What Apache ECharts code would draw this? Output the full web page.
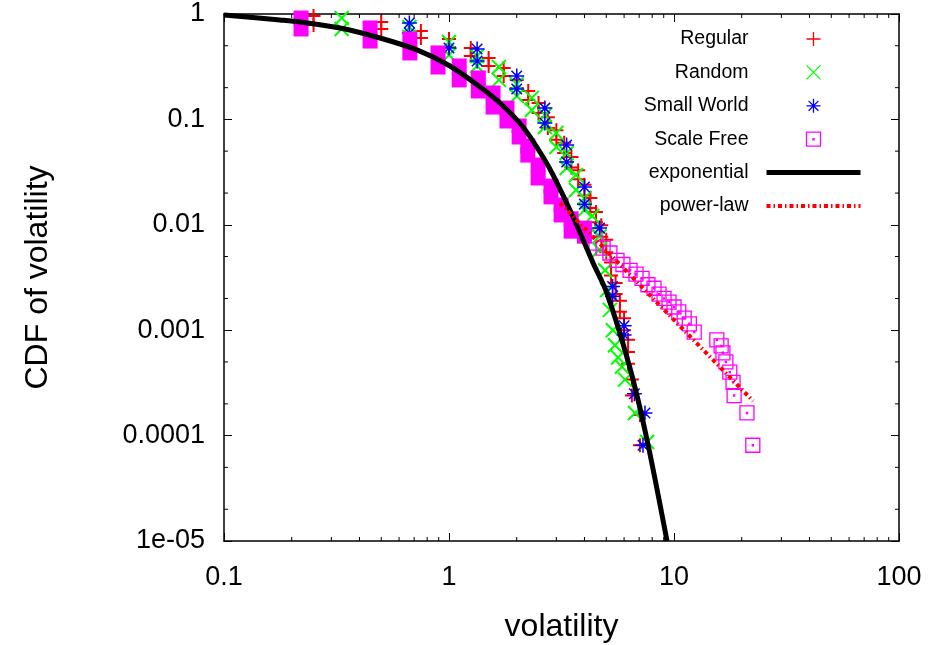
<!DOCTYPE html>
<html>
<head>
<meta charset="utf-8">
<title>CDF of volatility</title>
<script src="https://cdn.jsdelivr.net/npm/echarts@6/dist/echarts.min.js"></script>
<style>
html, body { margin: 0; padding: 0; background: #fff; }
#chart { width: 938px; height: 645px; }
</style>
</head>
<body>
<div id="chart"></div>
<script>
// tick values / labels
var xTickValues = [0.1, 1, 10, 100];
var xTickLabels = ['0.1', '1', '10', '100'];
var yTickValues = [1e-5, 1e-4, 1e-3, 1e-2, 0.1, 1];
var yTickLabels = ['1e-05', '0.0001', '0.001', '0.01', '0.1', '1'];
var xMinorTicks = [0.2, 0.3, 0.4, 0.5, 0.6, 0.7, 0.8, 0.9, 2, 3, 4, 5, 6, 7, 8, 9, 20, 30, 40, 50, 60, 70, 80, 90];
var yMinorTicks = [0.5, 0.2, 0.05, 0.02, 0.005, 0.002, 0.0005, 0.0002, 0.00005, 0.00002];

// series values: [volatility, CDF]
var regularPts = [
    [0.25, 0.957], [0.25, 0.786], [0.5, 0.839], [0.5, 0.721], [0.75, 0.69], [0.75, 0.592],
    [1.0, 0.579], [1.0, 0.486], [1.25, 0.476], [1.25, 0.4], [1.5, 0.383], [1.5, 0.321],
    [1.75, 0.308], [1.75, 0.258], [2.0, 0.237], [2.0, 0.199], [2.25, 0.186], [2.25, 0.153],
    [2.5, 0.143], [2.5, 0.115], [2.75, 0.105], [2.75, 0.083], [3.0, 0.079], [3.0, 0.064],
    [3.25, 0.06], [3.25, 0.048], [3.5, 0.044], [3.5, 0.035], [3.75, 0.033], [3.75, 0.027],
    [4.0, 0.024], [4.0, 0.019], [4.25, 0.018], [4.25, 0.0144], [4.5, 0.0132], [4.5, 0.0106],
    [4.75, 0.0099], [4.75, 0.0077], [5.0, 0.0072], [5.0, 0.0055], [5.25, 0.0044], [5.25, 0.0033],
    [5.5, 0.0028], [5.5, 0.0022], [5.75, 0.0019], [5.75, 0.0015], [6.0, 0.0013], [6.0, 0.001],
    [6.25, 0.00081], [6.25, 0.00062], [6.25, 0.00048], [6.5, 0.00034], [6.5, 0.00024],
    [7.06, 0.000157], [7.06, 0.000081]
];
var randomPts = [
    [0.3333, 0.916], [0.3333, 0.721], [0.6667, 0.753], [0.6667, 0.605], [1.0, 0.542], [1.0, 0.408],
    [1.3333, 0.4], [1.3333, 0.321], [1.6667, 0.314], [1.6667, 0.237], [2.0, 0.217], [2.0, 0.167],
    [2.3333, 0.16], [2.3333, 0.123], [2.6667, 0.11], [2.6667, 0.0847], [3.0, 0.0743], [3.0, 0.0547],
    [3.3333, 0.048], [3.3333, 0.0346], [3.6667, 0.0297], [3.6667, 0.0214], [4.0, 0.018], [4.0, 0.0138],
    [4.3333, 0.0121], [4.3333, 0.0089], [4.6667, 0.0078], [4.6667, 0.0058],
    [4.94, 0.0037], [5.04, 0.0024], [5.19, 0.00156], [5.35, 0.001], [5.47, 0.00072], [5.64, 0.00055],
    [5.87, 0.00045], [6.06, 0.00034], [6.71, 0.000164], [7.59, 0.000087]
];
var smallWorldPts = [
    [0.6667, 0.821], [0.6667, 0.66], [1.0, 0.476], [1.3333, 0.466], [1.3333, 0.358],
    [2.0, 0.258], [2.0, 0.194], [2.6667, 0.128], [2.6667, 0.0925], [3.3333, 0.0572], [3.3333, 0.0394],
    [4.0, 0.0228], [4.0, 0.0157], [4.6667, 0.0093], [5.3333, 0.0026], [5.3333, 0.0021],
    [6.0, 0.0011], [6.0, 0.0009], [6.6667, 0.00025], [7.43, 0.000164], [7.28, 0.000081]
];
var scaleFreeDensePts = [
    [0.22, 0.916], [0.22, 0.721], [0.446, 0.737], [0.446, 0.554], [0.67, 0.579], [0.67, 0.427],
    [0.894, 0.427], [0.894, 0.314], [1.11, 0.321], [1.11, 0.237], [1.35, 0.247], [1.35, 0.186],
    [1.57, 0.178], [1.57, 0.131], [1.81, 0.128], [1.81, 0.0966], [2.05, 0.0866], [2.05, 0.0681],
    [2.24, 0.056], [2.24, 0.0459], [2.49, 0.0369], [2.49, 0.0278], [2.84, 0.0233], [2.84, 0.0184],
    [3.15, 0.0154], [3.15, 0.0124], [3.49, 0.0114], [3.49, 0.0087], [4.0, 0.0093], [4.0, 0.0078]
];
var scaleFreeTailPts = [
    [4.5, 0.0067], [4.84, 0.006], [5.19, 0.0054], [5.58, 0.0046], [5.93, 0.0042], [6.38, 0.0037],
    [6.78, 0.0034], [7.21, 0.0031], [7.66, 0.0027], [8.15, 0.0025], [8.58, 0.0022], [9.03, 0.002],
    [9.5, 0.00185], [10.0, 0.00166], [10.5, 0.00149], [11.1, 0.0013], [11.7, 0.00115], [12.3, 0.00096],
    [15.5, 0.00081], [16.2, 0.00071], [16.5, 0.00061], [17.0, 0.0005], [17.7, 0.0004], [18.3, 0.00032],
    [18.5, 0.00024], [21.1, 0.000164], [22.4, 0.000081]
];
var exponentialPts = [
    [0.1, 0.978], [0.1774, 0.877], [0.218, 0.839], [0.328, 0.737], [0.4936, 0.592], [0.721, 0.456],
    [1.01, 0.321], [1.374, 0.203], [1.685, 0.143], [2.133, 0.0847], [2.617, 0.044], [2.9, 0.0297],
    [3.56, 0.0119], [4.37, 0.00434], [5.03, 0.00225], [6.37, 0.000438], [7.59, 0.0000908], [9.31, 0.00001]
];
var powerLawPts = [[3.114, 0.0161], [22.45, 0.000213]];

var FONT = '"Liberation Sans", Arial, Helvetica, sans-serif';
var plusPath = 'path://M0,5L10,5M5,0L5,10';
var crossPath = 'path://M0,0L10,10M10,0L0,10';
var starPath = 'path://M0,5L10,5M5,0L5,10M1.5,1.5L8.5,8.5M8.5,1.5L1.5,8.5';
var boxPath = 'path://M0,0L10,0L10,10L0,10ZM4.6,4.6L5.4,4.6L5.4,5.4L4.6,5.4Z';

function tickFormatter(values, labels) {
    return function (v) {
        for (var i = 0; i < values.length; i++) {
            if (Math.abs(Math.log10(v) - Math.log10(values[i])) < 1e-6) return labels[i];
        }
        return '';
    };
}

function baseAxis(extra) {
    var a = {
        type: 'log',
        logBase: 10,
        axisLine: {show: true, lineStyle: {color: '#000', width: 1.5}},
        axisTick: {show: true, inside: true, length: 8, lineStyle: {color: '#000', width: 1}},
        splitLine: {show: false},
        minorTick: {show: false},
        minorSplitLine: {show: false}
    };
    for (var k in extra) a[k] = extra[k];
    return a;
}

function minorTickItem(params, api, isX) {
    var cs = params.coordSys;
    var p = api.coord([api.value(0), api.value(1)]);
    var st = {stroke: '#000', lineWidth: 1};
    if (isX) {
        return {type: 'group', children: [
            {type: 'line', shape: {x1: p[0], y1: cs.y + cs.height, x2: p[0], y2: cs.y + cs.height - 4}, style: st},
            {type: 'line', shape: {x1: p[0], y1: cs.y, x2: p[0], y2: cs.y + 4}, style: st}
        ]};
    }
    return {type: 'group', children: [
        {type: 'line', shape: {x1: cs.x, y1: p[1], x2: cs.x + 4, y2: p[1]}, style: st},
        {type: 'line', shape: {x1: cs.x + cs.width, y1: p[1], x2: cs.x + cs.width - 4, y2: p[1]}, style: st}
    ]};
}

var myChart = echarts.init(document.getElementById('chart'), null, {renderer: 'canvas'});
var hollow = 'rgba(0,0,0,0)';
var option = {
    animation: false,
    backgroundColor: '#fff',
    textStyle: {fontFamily: FONT},
    grid: {left: 224, right: 39, top: 14, bottom: 104, containLabel: false, outerBoundsMode: 'none'},
    legend: {
        data: [
            {name: 'Regular'},
            {name: 'Random'},
            {name: 'Small World'},
            {name: 'Scale Free'},
            {name: 'exponential', itemStyle: {color: hollow, borderColor: hollow}, lineStyle: {width: 5}},
            {name: 'power-law', itemStyle: {color: hollow, borderColor: hollow}, lineStyle: {width: 4}}
        ],
        orient: 'vertical',
        align: 'right',
        right: 75,
        top: 29,
        padding: 0,
        itemWidth: 94,
        itemHeight: 14,
        itemGap: 13.4,
        selectedMode: false,
        itemStyle: {borderWidth: 1.3},
        textStyle: {fontSize: 19.5, color: '#000', fontFamily: FONT, padding: [0, 13, 0, 0]}
    },
    xAxis: [
        baseAxis({
            min: 0.1, max: 100, splitNumber: 3, position: 'bottom',
            name: 'volatility', nameLocation: 'middle', nameGap: 70,
            nameTextStyle: {fontSize: 32, color: '#000', fontFamily: FONT},
            axisLabel: {margin: 23, fontSize: 27, color: '#000', fontFamily: FONT,
                formatter: tickFormatter(xTickValues, xTickLabels)}
        }),
        baseAxis({min: 0.1, max: 100, splitNumber: 3, position: 'top', axisLabel: {show: false}})
    ],
    yAxis: [
        baseAxis({
            min: 1e-5, max: 1, position: 'left',
            name: 'CDF of volatility', nameLocation: 'middle', nameGap: 170, nameRotate: 90,
            nameTextStyle: {fontSize: 32, color: '#000', fontFamily: FONT},
            axisLabel: {margin: 19, fontSize: 27, color: '#000', fontFamily: FONT,
                formatter: tickFormatter(yTickValues, yTickLabels)}
        }),
        baseAxis({min: 1e-5, max: 1, position: 'right', axisLabel: {show: false}})
    ],
    series: [
        {
            type: 'custom', silent: true, xAxisIndex: 0, yAxisIndex: 0,
            data: xMinorTicks.map(function (v) { return [v, 1]; }),
            renderItem: function (params, api) { return minorTickItem(params, api, true); }
        },
        {
            type: 'custom', silent: true, xAxisIndex: 0, yAxisIndex: 0,
            data: yMinorTicks.map(function (v) { return [1, v]; }),
            renderItem: function (params, api) { return minorTickItem(params, api, false); }
        },
        {
            name: 'Regular', type: 'scatter', data: regularPts,
            symbol: plusPath, symbolSize: 14,
            itemStyle: {color: hollow, borderColor: '#ff0000', borderWidth: 2, opacity: 1}
        },
        {
            name: 'Random', type: 'scatter', data: randomPts,
            symbol: crossPath, symbolSize: 14,
            itemStyle: {color: hollow, borderColor: '#00ff00', borderWidth: 2, opacity: 1}
        },
        {
            name: 'Small World', type: 'scatter', data: smallWorldPts,
            symbol: starPath, symbolSize: 15,
            itemStyle: {color: hollow, borderColor: '#0000ff', borderWidth: 1.5, opacity: 1}
        },
        {
            name: 'Scale Free', type: 'scatter', data: scaleFreeTailPts,
            symbol: boxPath, symbolSize: 14,
            itemStyle: {color: hollow, borderColor: '#ff00ff', borderWidth: 1.3, opacity: 1}
        },
        {
            name: 'Scale Free', type: 'scatter', data: scaleFreeDensePts,
            symbol: 'rect', symbolSize: 15,
            itemStyle: {color: '#ff00ff', opacity: 1}
        },
        {
            name: 'exponential', type: 'line', data: exponentialPts,
            symbol: 'none', smooth: 0.3, clip: true,
            lineStyle: {color: '#000', width: 5},
            itemStyle: {color: '#000'}
        },
        {
            name: 'power-law', type: 'line', data: powerLawPts,
            symbol: 'none', clip: true,
            lineStyle: {color: '#ff0000', width: 4, type: [4, 3, 1.5, 3]},
            itemStyle: {color: '#ff0000'}
        }
    ]
};
myChart.setOption(option);
</script>
</body>
</html>
